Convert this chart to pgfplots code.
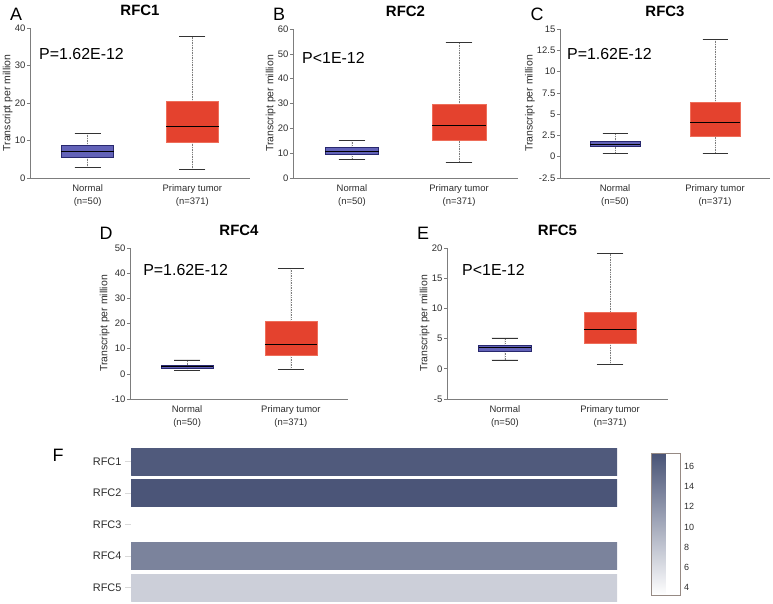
\documentclass[border=0pt]{standalone}
\usepackage{pgfplots}
\pgfplotsset{compat=1.18}
\usepgfplotslibrary{statistics,patchplots}
\usepackage{fontspec}
\setmainfont{Liberation Sans}
\definecolor{nfill}{RGB}{98,98,184}
\definecolor{nedge}{RGB}{40,40,110}
\definecolor{tfill}{RGB}{228,66,46}
\definecolor{tedge}{RGB}{238,110,90}
\definecolor{axgray}{RGB}{125,125,125}
\definecolor{txtgray}{RGB}{45,45,45}
\definecolor{cbedge}{RGB}{150,138,132}
\pgfplotsset{
  every axis/.append style={/pgf/number format/assume math mode=true},
  boxplot/draw/whisker/.code 2 args={%
    \draw[axgray, densely dotted, line width=0.7pt]
      (boxplot box cs:#1,0.5) -- (boxplot box cs:#2,0.5);
    \draw[black!80, line width=0.8pt]
      (boxplot whisker cs:#2,0) -- (boxplot whisker cs:#2,1);
  },
  bpanel/.style={
    scale only axis, anchor=south west,
    xmin=-0.55, xmax=1.55,
    axis x line*=bottom, axis y line*=left,
    axis line style={axgray, line width=0.6pt, -},
    xtick={0,1},
    xticklabels={{Normal\\(n=50)},{Primary tumor\\(n=371)}},
    xticklabel style={align=center, font=\fontsize{9.5}{13}\selectfont, text=txtgray},
    x tick style={draw=none},
    y tick style={axgray, line width=0.6pt},
    tick align=outside, major tick length=3bp,
    yticklabel style={font=\fontsize{9.5}{11}\selectfont, text=txtgray, inner sep=1.5bp},
    ylabel={Transcript per million},
    ylabel style={font=\fontsize{10.5}{12}\selectfont, text=txtgray, inner sep=0.5bp},
    title style={font=\bfseries\fontsize{15}{17}\selectfont, at={(axis description cs:0.5,1)}, anchor=base, yshift=6.5bp},
    clip=false,
    boxplot/draw direction=y,
    boxplot/box extend=0.5,
    boxplot/whisker extend=0.25,
    boxplot/every median/.style={black, line width=1pt},
  },
  nbox/.style={fill=nfill, draw=nedge, line width=0.8pt},
  tbox/.style={fill=tfill, draw=tedge, line width=0.5pt},
}
\newcommand{\pval}[3]{\node[anchor=base west, font=\fontsize{16}{18}\selectfont, inner sep=0pt] at (rel axis cs:#1,#2) {#3};}
\begin{document}
\begin{tikzpicture}
\path[use as bounding box] (0,0) rectangle (773bp,604bp);
% Panel A
\begin{axis}[bpanel, at={(30bp,426bp)}, width=220bp, height=150bp,
  ymin=0, ymax=40, ytick={0,10,...,40}, title={RFC1}]
\addplot[nbox, boxplot prepared={draw position=0, lower whisker=2.8, lower quartile=5.6, median=7.0, upper quartile=8.7, upper whisker=11.9}] coordinates {};
\addplot[tbox, boxplot prepared={draw position=1, lower whisker=2.2, lower quartile=9.6, median=13.6, upper quartile=20.4, upper whisker=37.7}] coordinates {};
\pval{0.041}{0.793}{P=1.62E-12}
\end{axis}
% Panel B
\begin{axis}[bpanel, at={(293bp,426bp)}, width=225bp, height=149bp,
  ymin=0, ymax=60, ytick={0,10,...,60}, title={RFC2}]
\addplot[nbox, boxplot prepared={draw position=0, lower whisker=7.6, lower quartile=9.6, median=10.7, upper quartile=12.3, upper whisker=15.1}] coordinates {};
\addplot[tbox, boxplot prepared={draw position=1, lower whisker=6.4, lower quartile=15.0, median=21.1, upper quartile=29.5, upper whisker=54.6}] coordinates {};
\pval{0.04}{0.77}{P<1E-12}
\end{axis}
% Panel C
\begin{axis}[bpanel, at={(560bp,426bp)}, width=210bp, height=149bp,
  ymin=-2.5, ymax=15, ytick={-2.5,0,2.5,5,7.5,10,12.5,15}, title={RFC3}]
\addplot[nbox, boxplot prepared={draw position=0, lower whisker=0.43, lower quartile=1.17, median=1.45, upper quartile=1.76, upper whisker=2.7}] coordinates {};
\addplot[tbox, boxplot prepared={draw position=1, lower whisker=0.39, lower quartile=2.35, median=4.07, upper quartile=6.4, upper whisker=13.8}] coordinates {};
\pval{0.033}{0.792}{P=1.62E-12}
\end{axis}
% Panel D
\begin{axis}[bpanel, at={(130bp,205bp)}, width=218bp, height=151bp,
  ymin=-10, ymax=50, ytick={-10,0,...,50}, title={RFC4}]
\addplot[nbox, boxplot prepared={draw position=0, lower whisker=1.3, lower quartile=2.2, median=3.0, upper quartile=3.5, upper whisker=5.5}] coordinates {};
\addplot[tbox, boxplot prepared={draw position=1, lower whisker=1.8, lower quartile=7.4, median=11.8, upper quartile=20.9, upper whisker=41.9}] coordinates {};
\pval{0.06}{0.815}{P=1.62E-12}
\end{axis}
% Panel E
\begin{axis}[bpanel, at={(447bp,205bp)}, width=221bp, height=151bp,
  ymin=-5, ymax=20, ytick={-5,0,...,20}, title={RFC5}]
\addplot[nbox, boxplot prepared={draw position=0, lower whisker=1.47, lower quartile=2.96, median=3.46, upper quartile=3.9, upper whisker=5.1}] coordinates {};
\addplot[tbox, boxplot prepared={draw position=1, lower whisker=0.70, lower quartile=4.24, median=6.45, upper quartile=9.44, upper whisker=19.05}] coordinates {};
\pval{0.068}{0.815}{P<1E-12}
\end{axis}
% Panel F heatmap
\begin{axis}[scale only axis, anchor=south west, at={(131bp,0.75bp)},
  width=486bp, height=157.5bp,
  xmin=0, xmax=1, ymin=0.5, ymax=5.5, y dir=reverse,
  axis x line=none, axis y line*=left,
  y axis line style={draw=none},
  ytick={1,2,3,4,5}, yticklabels={RFC1,RFC2,RFC3,RFC4,RFC5},
  y tick style={draw=black!15, line width=0.6pt},
  tick align=outside, major tick length=6bp,
  yticklabel style={font=\fontsize{11}{13}\selectfont, text=txtgray},
  colormap={blu}{rgb255(0cm)=(255,255,255); rgb255(1cm)=(72,83,118)},
  point meta min=3.3, point meta max=17.3,
  colorbar,
  colorbar style={scale only axis, at={(parent axis.north east)}, anchor=north west,
    xshift=26bp, yshift=-7.25bp, width=29bp, height=142bp,
    ytick={4,6,...,16}, major tick length=0pt,
    axis line style={cbedge, line width=0.8pt},
    yticklabel style={font=\fontsize{9}{10}\selectfont, text=txtgray}},
]
\addplot[patch, patch type=rectangle, shader=flat corner, point meta=explicit] coordinates {
 (0,0.57) [16.6] (1,0.57) [16.6] (1,1.43) [16.6] (0,1.43) [16.6]
 (0,1.57) [17.0] (1,1.57) [17.0] (1,2.43) [17.0] (0,2.43) [17.0]
 (0,2.57) [3.3] (1,2.57) [3.3] (1,3.43) [3.3] (0,3.43) [3.3]
 (0,3.57) [13.3] (1,3.57) [13.3] (1,4.43) [13.3] (0,4.43) [13.3]
 (0,4.57) [7.2] (1,4.57) [7.2] (1,5.43) [7.2] (0,5.43) [7.2]
};
\end{axis}
\node[font=\fontsize{18}{20}\selectfont] at (16bp,590bp) {A};
\node[font=\fontsize{18}{20}\selectfont] at (279bp,590bp) {B};
\node[font=\fontsize{18}{20}\selectfont] at (537bp,590bp) {C};
\node[font=\fontsize{18}{20}\selectfont] at (106bp,371bp) {D};
\node[font=\fontsize{18}{20}\selectfont] at (423bp,371bp) {E};
\node[font=\fontsize{18}{20}\selectfont] at (58bp,149bp) {F};
\end{tikzpicture}
\end{document}
